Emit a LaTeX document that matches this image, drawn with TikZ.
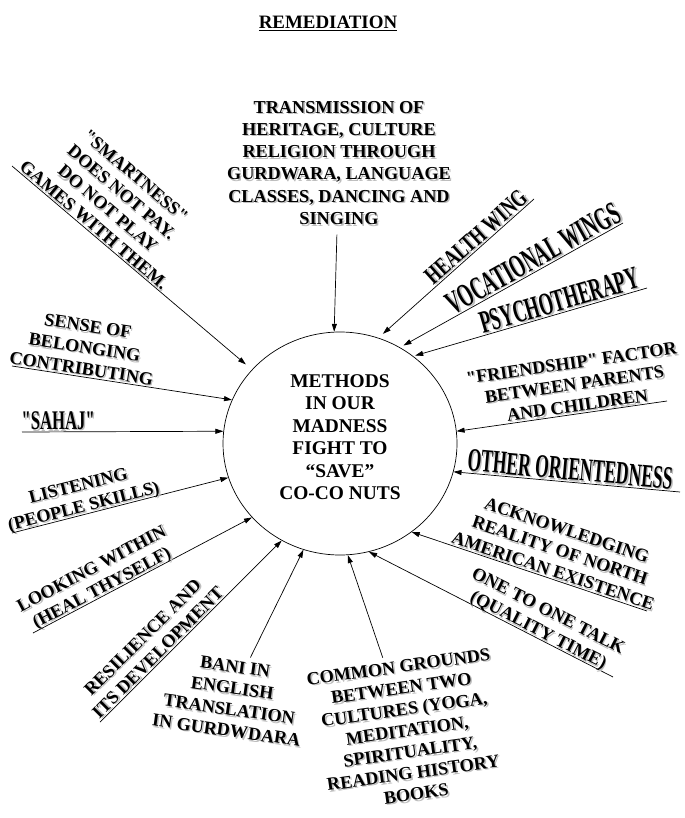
\documentclass[tikz,border=0pt]{standalone}
\usepackage{fontspec}
\setmainfont{Liberation Serif}[Ligatures=TeXOff]
\usepackage{graphicx}
\usetikzlibrary{shapes.geometric,arrows.meta}

\definecolor{shadowgray}{gray}{0.74}
\newcommand\shd[1]{\raisebox{0pt}[\height][0pt]{\rlap{\hspace*{1.5pt}\raisebox{-1.5pt}{\color{shadowgray}\begin{tabular}[b]{@{}c@{}}#1\end{tabular}}}\begin{tabular}[b]{@{}c@{}}#1\end{tabular}}}
\newcommand\cnd[3]{\scalebox{#1}[1]{\fontsize{#2}{#2}\selectfont #3}}

\begin{document}
\begin{tikzpicture}[x=1bp,y=-1bp,
  arr/.style={draw, line width=0.7pt, -{Triangle[length=8pt,width=5pt]}},
  lbl/.style={font=\bfseries\fontsize{18.3}{21.5}\selectfont, inner sep=2pt},
  ell/.style={draw, ellipse, line width=0.7pt, minimum width=234bp, minimum height=223bp, inner sep=0pt},
  ctext/.style={font=\bfseries\fontsize{19.5}{22.6}\selectfont, align=center, inner sep=0pt},
  ttl/.style={font=\bfseries\fontsize{19}{22}\selectfont, inner sep=0pt, anchor=base}]
\useasboundingbox (0,0) rectangle (685,818);

\node[ttl] (title) at (328,29) {\underline{REMEDIATION}};

\node[ell] (c) at (340,443.5) {};
\node[ctext] (ct) at (340,437) {METHODS\\IN OUR\\MADNESS\\FIGHT TO\\“SAVE”\\CO-CO NUTS};

% start points of the connectors
\coordinate (s2) at (534,199);
\coordinate (s3) at (623,223);
\coordinate (s4) at (647,288);
\coordinate (s5) at (667,401);
\coordinate (s6) at (680,492);
\coordinate (s7) at (647,611);
\coordinate (s8) at (613,677);
\coordinate (s11) at (100,722);
\coordinate (s12) at (33,633);
\coordinate (s13) at (12,533);
\coordinate (s14) at (22,432);
\coordinate (s15) at (12,366);
\coordinate (s16) at (12,166);

% top
\node[lbl, font=\bfseries\fontsize{18.3}{22.4}\selectfont, outer ysep=8pt] (top) at (339,161)
  {\shd{TRANSMISSION OF\\HERITAGE, CULTURE\\RELIGION THROUGH\\GURDWARA, LANGUAGE\\CLASSES, DANCING AND\\SINGING}};
\draw[arr] (top) -- (c.93.1);

% right side
\draw[arr, shorten >=6pt] (s2) -- node[lbl, sloped, above, pos=0.33] (l2) {\shd{\cnd{0.70}{25}{HEALTH WING}}} (c.70.3);
\draw[arr, shorten >=4pt] (s3) -- node[lbl, sloped, above, pos=0.375] (l3) {\shd{\cnd{0.565}{33}{VOCATIONAL WINGS}}} (c.58.3);
\draw[arr, shorten >=2pt] (s4) -- node[lbl, sloped, above, pos=0.36] (l4) {\shd{\cnd{0.57}{32}{PSYCHOTHERAPY}}} (c.50.7);
\draw[arr] (s5) -- node[lbl, sloped, above, pos=0.42] (l5) {\shd{"FRIENDSHIP" FACTOR\\BETWEEN PARENTS\\AND CHILDREN}} (c.6.0);
\draw[arr] (s6) -- node[lbl, sloped, above, pos=0.49] (l6) {\shd{\cnd{0.54}{32.7}{OTHER ORIENTEDNESS}}} (c.-14.0);
\draw[arr] (s7) -- node[lbl, sloped, above, pos=0.41] (l7) {\shd{ACKNOWLEDGING\\REALITY OF NORTH\\AMERICAN EXISTENCE}} (c.-51.1);
\draw[arr] (s8) -- node[lbl, sloped, above, pos=0.32] (l8) {\shd{ONE TO ONE TALK\\(QUALITY TIME)}} (c.-75.1);

% bottom
\node[lbl, rotate=8] (common) at (407,729)
  {\shd{COMMON GROUNDS\\BETWEEN TWO\\CULTURES (YOGA,\\MEDITATION,\\SPIRITUALITY,\\READING HISTORY\\BOOKS}};
\draw[arr] (common) -- (c.-86.5);
\node[lbl, rotate=-8] (bani) at (231,697)
  {\shd{BANI IN\\ENGLISH\\TRANSLATION\\IN GURDWDARA}};
\draw[arr] (bani) -- (c.-109.3);

% left side
\draw[arr] (s11) -- node[lbl, sloped, above, pos=0.35] (l11) {\shd{RESILIENCE AND\\ITS DEVELOPMENT}} (c.-121.2);
\draw[arr] (s12) -- node[lbl, sloped, above, pos=0.33] (l12) {\shd{LOOKING WITHIN\\(HEAL THYSELF)}} (c.-140.1);
\draw[arr] (s13) -- node[lbl, sloped, above, pos=0.34] (l13) {\shd{LISTENING\\(PEOPLE SKILLS)}} (c.-163.1);
\draw[arr] (s14) -- node[lbl, sloped, above, pos=0.18] (l14) {\shd{\cnd{0.62}{27}{"SAHAJ"}}} (c.174.4);
\draw[arr] (s15) -- node[lbl, sloped, above, pos=0.31] (l15) {\shd{SENSE OF\\BELONGING\\CONTRIBUTING}} (c.158.5);
\draw[arr, shorten >=8pt] (s16) -- node[lbl, sloped, above, pos=0.32] (l16) {\shd{"SMARTNESS"\\DOES NOT PAY.\\DO NOT PLAY\\GAMES WITH THEM.}} (c.140.4);
\end{tikzpicture}
\end{document}
